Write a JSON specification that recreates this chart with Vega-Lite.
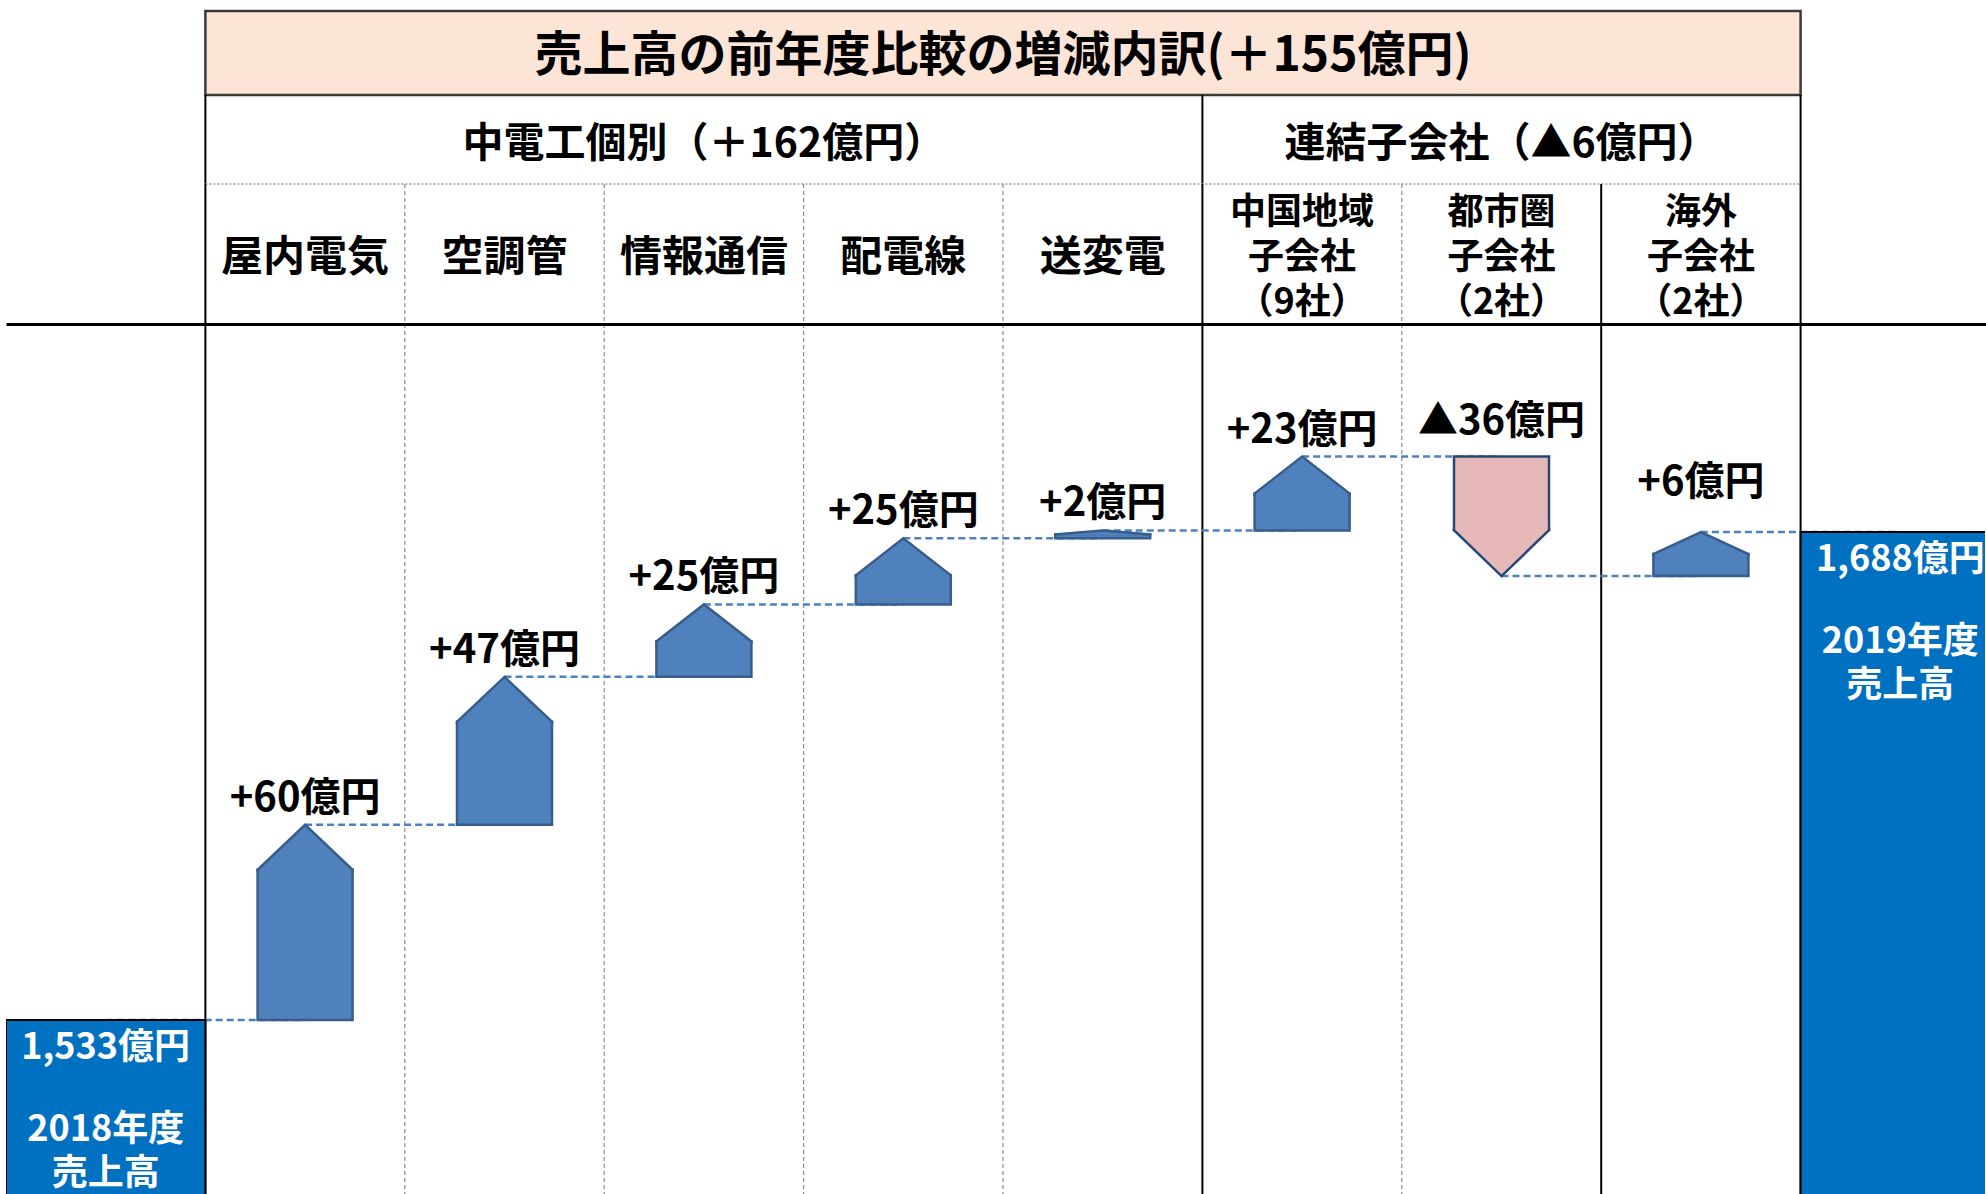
{
  "$schema": "https://vega.github.io/schema/vega-lite/v6.json",
  "padding": {"left": 6, "top": 9, "right": 0, "bottom": 0},
  "bounds": "flush",
  "spacing": 0,
  "background": "white",
  "config": {
    "view": {"stroke": null},
    "font": "Noto Sans CJK JP",
    "concat": {"spacing": 0}
  },
  "datasets": {
    "title": [
      {"text": "売上高の前年度比較の増減内訳(＋155億円)", "from": "屋内電気", "to": "海外", "mid": "送変電"}
    ],
    "groups": [
      {"name": "中電工個別（＋162億円）", "from": "屋内電気", "to": "送変電", "mid": "情報通信"},
      {"name": "連結子会社（▲6億円）", "from": "中国地域", "to": "海外", "mid": "都市圏"}
    ],
    "headers": [
      {"cat": "屋内電気", "header": "屋内電気", "lines": 1},
      {"cat": "空調管", "header": "空調管", "lines": 1},
      {"cat": "情報通信", "header": "情報通信", "lines": 1},
      {"cat": "配電線", "header": "配電線", "lines": 1},
      {"cat": "送変電", "header": "送変電", "lines": 1},
      {"cat": "中国地域", "header": "中国地域\n子会社\n（9社）", "lines": 3},
      {"cat": "都市圏", "header": "都市圏\n子会社\n（2社）", "lines": 3},
      {"cat": "海外", "header": "海外\n子会社\n（2社）", "lines": 3}
    ],
    "dividers": [
      {"cat": "屋内電気", "level": "group"},
      {"cat": "空調管", "level": "item"},
      {"cat": "情報通信", "level": "item"},
      {"cat": "配電線", "level": "item"},
      {"cat": "送変電", "level": "item"},
      {"cat": "中国地域", "level": "group"},
      {"cat": "都市圏", "level": "item"},
      {"cat": "海外", "level": "region"},
      {"cat": "2019年度", "level": "group"}
    ],
    "totals": [
      {"cat": "2018年度", "value": 1533, "amount": "1,533億円", "caption": "2018年度\n売上高"},
      {"cat": "2019年度", "value": 1688, "amount": "1,688億円", "caption": "2019年度\n売上高"}
    ],
    "changes": [
      {"cat": "屋内電気", "start": 1533, "end": 1595, "label": "+60億円"},
      {"cat": "空調管", "start": 1595, "end": 1642, "label": "+47億円"},
      {"cat": "情報通信", "start": 1642, "end": 1665, "label": "+25億円"},
      {"cat": "配電線", "start": 1665, "end": 1686, "label": "+25億円"},
      {"cat": "送変電", "start": 1686, "end": 1688.5, "label": "+2億円"},
      {"cat": "中国地域", "start": 1688.5, "end": 1712, "label": "+23億円"},
      {"cat": "都市圏", "start": 1712, "end": 1674, "label": "▲36億円"},
      {"cat": "海外", "start": 1674, "end": 1688, "label": "+6億円"}
    ],
    "links": [
      {"from": "2018年度", "to": "屋内電気", "level": 1533},
      {"from": "屋内電気", "to": "空調管", "level": 1595},
      {"from": "空調管", "to": "情報通信", "level": 1642},
      {"from": "情報通信", "to": "配電線", "level": 1665},
      {"from": "配電線", "to": "送変電", "level": 1686},
      {"from": "送変電", "to": "中国地域", "level": 1688.5},
      {"from": "中国地域", "to": "都市圏", "level": 1712},
      {"from": "都市圏", "to": "海外", "level": 1674},
      {"from": "海外", "to": "2019年度", "level": 1688}
    ]
  },
  "vconcat": [
    {
      "width": 1979,
      "height": 84,
      "data": {"name": "title"},
      "layer": [
        {
          "mark": {"type": "rect", "fill": "#FCE4D6", "stroke": "#3a3a3a", "strokeWidth": 2.5},
          "encoding": {
            "x": {"field": "from", "type": "nominal", "bandPosition": 0, "axis": null,
                  "scale": {"type": "band", "domain": ["2018年度", "屋内電気", "空調管", "情報通信", "配電線", "送変電", "中国地域", "都市圏", "海外", "2019年度"], "range": [0, 1994], "paddingInner": 0, "paddingOuter": 0}},
            "x2": {"field": "to", "bandPosition": 1}
          }
        },
        {
          "mark": {"type": "text", "fontSize": 48, "fontWeight": "bold", "fill": "#000000", "baseline": "middle", "dy": 4},
          "encoding": {
            "x": {"field": "mid", "type": "nominal", "bandPosition": 0, "axis": null,
                  "scale": {"type": "band", "domain": ["2018年度", "屋内電気", "空調管", "情報通信", "配電線", "送変電", "中国地域", "都市圏", "海外", "2019年度"], "range": [0, 1994], "paddingInner": 0, "paddingOuter": 0}},
            "text": {"field": "text"}
          }
        }
      ]
    },
    {
      "width": 1979,
      "height": 89,
      "layer": [
        {
          "data": {"name": "dividers"},
          "transform": [{"filter": "datum.level === 'group'"}],
          "mark": {"type": "rule", "stroke": "#000000", "strokeWidth": 2},
          "encoding": {
            "x": {"field": "cat", "type": "nominal", "bandPosition": 0, "axis": null,
                  "scale": {"type": "band", "domain": ["2018年度", "屋内電気", "空調管", "情報通信", "配電線", "送変電", "中国地域", "都市圏", "海外", "2019年度"], "range": [0, 1994], "paddingInner": 0, "paddingOuter": 0}}
          }
        },
        {
          "data": {"name": "groups"},
          "mark": {"type": "text", "fontSize": 41, "fontWeight": "bold", "fill": "#000000", "baseline": "middle", "dy": 5},
          "encoding": {
            "x": {"field": "mid", "type": "nominal", "bandPosition": 0.5, "axis": null,
                  "scale": {"type": "band", "domain": ["2018年度", "屋内電気", "空調管", "情報通信", "配電線", "送変電", "中国地域", "都市圏", "海外", "2019年度"], "range": [0, 1994], "paddingInner": 0, "paddingOuter": 0}},
            "text": {"field": "name"}
          }
        }
      ]
    },
    {
      "width": 1979,
      "height": 140,
      "layer": [
        {
          "data": {"name": "title"},
          "mark": {"type": "rect", "filled": false, "stroke": "#9a9a9a", "strokeWidth": 1.5, "strokeDash": [2, 2]},
          "encoding": {
            "x": {"field": "from", "type": "nominal", "bandPosition": 0, "axis": null,
                  "scale": {"type": "band", "domain": ["2018年度", "屋内電気", "空調管", "情報通信", "配電線", "送変電", "中国地域", "都市圏", "海外", "2019年度"], "range": [0, 1994], "paddingInner": 0, "paddingOuter": 0}},
            "x2": {"field": "to", "bandPosition": 1}
          }
        },
        {
          "data": {"name": "dividers"},
          "transform": [{"filter": "datum.level === 'item'"}],
          "mark": {"type": "rule", "stroke": "#8a8a8a", "strokeWidth": 1.2, "strokeDash": [4, 3]},
          "encoding": {
            "x": {"field": "cat", "type": "nominal", "bandPosition": 0, "axis": null,
                  "scale": {"type": "band", "domain": ["2018年度", "屋内電気", "空調管", "情報通信", "配電線", "送変電", "中国地域", "都市圏", "海外", "2019年度"], "range": [0, 1994], "paddingInner": 0, "paddingOuter": 0}}
          }
        },
        {
          "data": {"name": "dividers"},
          "transform": [{"filter": "datum.level !== 'item'"}],
          "mark": {"type": "rule", "stroke": "#000000", "strokeWidth": 2},
          "encoding": {
            "x": {"field": "cat", "type": "nominal", "bandPosition": 0, "axis": null,
                  "scale": {"type": "band", "domain": ["2018年度", "屋内電気", "空調管", "情報通信", "配電線", "送変電", "中国地域", "都市圏", "海外", "2019年度"], "range": [0, 1994], "paddingInner": 0, "paddingOuter": 0}}
          }
        },
        {
          "data": {"name": "headers"},
          "transform": [{"filter": "datum.lines === 1"}],
          "mark": {"type": "text", "fontSize": 42, "fontWeight": "bold", "fill": "#000000", "baseline": "middle", "dy": 4},
          "encoding": {
            "x": {"field": "cat", "type": "nominal", "bandPosition": 0.5, "axis": null,
                  "scale": {"type": "band", "domain": ["2018年度", "屋内電気", "空調管", "情報通信", "配電線", "送変電", "中国地域", "都市圏", "海外", "2019年度"], "range": [0, 1994], "paddingInner": 0, "paddingOuter": 0}},
            "text": {"field": "header"}
          }
        },
        {
          "data": {"name": "headers"},
          "transform": [{"filter": "datum.lines === 3"}],
          "mark": {"type": "text", "fontSize": 36, "fontWeight": "bold", "fill": "#000000", "baseline": "middle", "dy": -41, "lineBreak": "\n", "lineHeight": 45},
          "encoding": {
            "x": {"field": "cat", "type": "nominal", "bandPosition": 0.5, "axis": null,
                  "scale": {"type": "band", "domain": ["2018年度", "屋内電気", "空調管", "情報通信", "配電線", "送変電", "中国地域", "都市圏", "海外", "2019年度"], "range": [0, 1994], "paddingInner": 0, "paddingOuter": 0}},
            "text": {"field": "header"}
          }
        }
      ]
    },
    {
      "width": 1979,
      "height": 870,
      "encoding": {
        "x": {"type": "nominal",
              "scale": {"type": "band", "domain": ["2018年度", "屋内電気", "空調管", "情報通信", "配電線", "送変電", "中国地域", "都市圏", "海外", "2019年度"], "range": [0, 1994], "paddingInner": 0, "paddingOuter": 0},
              "axis": {"orient": "top", "domain": true, "domainColor": "#000000", "domainWidth": 3, "labels": false, "ticks": false, "grid": false, "title": null, "zindex": 1}}
      },
      "layer": [
        {
          "data": {"name": "dividers"},
          "transform": [{"filter": "datum.level === 'item'"}],
          "mark": {"type": "rule", "stroke": "#8a8a8a", "strokeWidth": 1.2, "strokeDash": [4, 3]},
          "encoding": {
            "x": {"field": "cat", "type": "nominal", "bandPosition": 0}
          }
        },
        {
          "data": {"name": "dividers"},
          "transform": [{"filter": "datum.level !== 'item'"}],
          "mark": {"type": "rule", "stroke": "#000000", "strokeWidth": 2},
          "encoding": {
            "x": {"field": "cat", "type": "nominal", "bandPosition": 0}
          }
        },
        {
          "data": {"name": "links"},
          "mark": {"type": "rule", "stroke": "#4F81BD", "strokeWidth": 2.5, "strokeDash": [7, 4]},
          "encoding": {
            "x": {"field": "from", "type": "nominal", "bandPosition": 0.5},
            "x2": {"field": "to", "bandPosition": 0.5},
            "y": {"field": "level", "type": "quantitative",
                  "scale": {"domain": [1477.7, 1754.1], "zero": false, "nice": false},
                  "axis": {"orient": "left", "domain": true, "domainColor": "#666666", "domainWidth": 1.5, "labels": false, "ticks": false, "grid": false, "title": null}}
          }
        },
        {
          "data": {"name": "totals"},
          "mark": {"type": "bar", "fill": "#0070C0", "stroke": "#000000", "strokeWidth": 2, "clip": true},
          "encoding": {
            "x": {"field": "cat", "type": "nominal"},
            "y": {"field": "value", "type": "quantitative", "axis": null, "scale": {"domain": [1477.7, 1754.1], "zero": false, "nice": false}}
          }
        },
        {
          "data": {"name": "changes"},
          "transform": [{"filter": {"field": "cat", "oneOf": ["屋内電気", "空調管"]}}],
          "mark": {"type": "bar", "width": 95, "fill": "#4F81BD", "stroke": "#385D8A", "strokeWidth": 2.5, "yOffset": 45},
          "encoding": {
            "x": {"field": "cat", "type": "nominal"},
            "y": {"field": "end", "type": "quantitative", "axis": null, "scale": {"domain": [1477.7, 1754.1], "zero": false, "nice": false}},
            "y2": {"field": "start"}
          }
        },
        {
          "data": {"name": "changes"},
          "transform": [{"filter": {"field": "cat", "oneOf": ["屋内電気", "空調管"]}}],
          "mark": {"type": "point", "shape": "M1,1L1,0.947L0,0L-1,0.947L-1,1", "size": 9025, "filled": true, "fill": "#4F81BD", "stroke": "#385D8A", "strokeWidth": 2.5, "opacity": 1},
          "encoding": {
            "x": {"field": "cat", "type": "nominal"},
            "y": {"field": "end", "type": "quantitative", "axis": null, "scale": {"domain": [1477.7, 1754.1], "zero": false, "nice": false}}
          }
        },
        {
          "data": {"name": "changes"},
          "transform": [{"filter": {"field": "cat", "oneOf": ["情報通信", "配電線", "中国地域"]}}],
          "mark": {"type": "bar", "width": 95, "fill": "#4F81BD", "stroke": "#385D8A", "strokeWidth": 2.5, "yOffset": 37},
          "encoding": {
            "x": {"field": "cat", "type": "nominal"},
            "y": {"field": "end", "type": "quantitative", "axis": null, "scale": {"domain": [1477.7, 1754.1], "zero": false, "nice": false}},
            "y2": {"field": "start"}
          }
        },
        {
          "data": {"name": "changes"},
          "transform": [{"filter": {"field": "cat", "oneOf": ["情報通信", "配電線", "中国地域"]}}],
          "mark": {"type": "point", "shape": "M1,0.83L1,0.779L0,0L-1,0.779L-1,0.83", "size": 9025, "filled": true, "fill": "#4F81BD", "stroke": "#385D8A", "strokeWidth": 2.5, "opacity": 1},
          "encoding": {
            "x": {"field": "cat", "type": "nominal"},
            "y": {"field": "end", "type": "quantitative", "axis": null, "scale": {"domain": [1477.7, 1754.1], "zero": false, "nice": false}}
          }
        },
        {
          "data": {"name": "changes"},
          "transform": [{"filter": {"field": "cat", "oneOf": ["海外"]}}],
          "mark": {"type": "bar", "width": 95, "fill": "#4F81BD", "stroke": "#385D8A", "strokeWidth": 2.5, "yOffset": 22},
          "encoding": {
            "x": {"field": "cat", "type": "nominal"},
            "y": {"field": "end", "type": "quantitative", "axis": null, "scale": {"domain": [1477.7, 1754.1], "zero": false, "nice": false}},
            "y2": {"field": "start"}
          }
        },
        {
          "data": {"name": "changes"},
          "transform": [{"filter": {"field": "cat", "oneOf": ["海外"]}}],
          "mark": {"type": "point", "shape": "M1,0.51L1,0.463L0,0L-1,0.463L-1,0.51", "size": 9025, "filled": true, "fill": "#4F81BD", "stroke": "#385D8A", "strokeWidth": 2.5, "opacity": 1},
          "encoding": {
            "x": {"field": "cat", "type": "nominal"},
            "y": {"field": "end", "type": "quantitative", "axis": null, "scale": {"domain": [1477.7, 1754.1], "zero": false, "nice": false}}
          }
        },
        {
          "data": {"name": "changes"},
          "transform": [{"filter": {"field": "cat", "oneOf": ["送変電"]}}],
          "mark": {"type": "bar", "width": 95, "fill": "#4F81BD", "stroke": "#385D8A", "strokeWidth": 2.5, "yOffset": 4},
          "encoding": {
            "x": {"field": "cat", "type": "nominal"},
            "y": {"field": "end", "type": "quantitative", "axis": null, "scale": {"domain": [1477.7, 1754.1], "zero": false, "nice": false}},
            "y2": {"field": "start"}
          }
        },
        {
          "data": {"name": "changes"},
          "transform": [{"filter": {"field": "cat", "oneOf": ["送変電"]}}],
          "mark": {"type": "point", "shape": "M1,0.11L1,0.084L0,0L-1,0.084L-1,0.11", "size": 9025, "filled": true, "fill": "#4F81BD", "stroke": "#385D8A", "strokeWidth": 2.5, "opacity": 1},
          "encoding": {
            "x": {"field": "cat", "type": "nominal"},
            "y": {"field": "end", "type": "quantitative", "axis": null, "scale": {"domain": [1477.7, 1754.1], "zero": false, "nice": false}}
          }
        },
        {
          "data": {"name": "changes"},
          "transform": [{"filter": {"field": "cat", "oneOf": ["都市圏"]}}],
          "mark": {"type": "bar", "width": 95, "fill": "#E6B9B8", "stroke": "#26477A", "strokeWidth": 2.5, "yOffset": -46},
          "encoding": {
            "x": {"field": "cat", "type": "nominal"},
            "y": {"field": "end", "type": "quantitative", "axis": null, "scale": {"domain": [1477.7, 1754.1], "zero": false, "nice": false}},
            "y2": {"field": "start"}
          }
        },
        {
          "data": {"name": "changes"},
          "transform": [{"filter": {"field": "cat", "oneOf": ["都市圏"]}}],
          "mark": {"type": "point", "shape": "M1,-1.02L1,-0.968L0,0L-1,-0.968L-1,-1.02", "size": 9025, "filled": true, "fill": "#E6B9B8", "stroke": "#26477A", "strokeWidth": 2.5, "opacity": 1},
          "encoding": {
            "x": {"field": "cat", "type": "nominal"},
            "y": {"field": "end", "type": "quantitative", "axis": null, "scale": {"domain": [1477.7, 1754.1], "zero": false, "nice": false}}
          }
        },
        {
          "data": {"name": "changes"},
          "transform": [{"filter": {"not": {"field": "cat", "oneOf": ["都市圏", "海外"]}}}],
          "mark": {"type": "text", "fontSize": 40, "fontWeight": "bold", "fill": "#000000", "baseline": "alphabetic", "dy": -14},
          "encoding": {
            "x": {"field": "cat", "type": "nominal"},
            "y": {"field": "end", "type": "quantitative", "axis": null, "scale": {"domain": [1477.7, 1754.1], "zero": false, "nice": false}},
            "text": {"field": "label"}
          }
        },
        {
          "data": {"name": "changes"},
          "transform": [{"filter": {"field": "cat", "oneOf": ["海外"]}}],
          "mark": {"type": "text", "fontSize": 40, "fontWeight": "bold", "fill": "#000000", "baseline": "alphabetic", "dy": -37},
          "encoding": {
            "x": {"field": "cat", "type": "nominal"},
            "y": {"field": "end", "type": "quantitative", "axis": null, "scale": {"domain": [1477.7, 1754.1], "zero": false, "nice": false}},
            "text": {"field": "label"}
          }
        },
        {
          "data": {"name": "changes"},
          "transform": [{"filter": {"field": "cat", "oneOf": ["都市圏"]}}],
          "mark": {"type": "text", "fontSize": 40, "fontWeight": "bold", "fill": "#000000", "baseline": "alphabetic", "dy": -23},
          "encoding": {
            "x": {"field": "cat", "type": "nominal"},
            "y": {"field": "start", "type": "quantitative", "axis": null, "scale": {"domain": [1477.7, 1754.1], "zero": false, "nice": false}},
            "text": {"field": "label"}
          }
        },
        {
          "data": {"name": "totals"},
          "mark": {"type": "text", "fontSize": 36, "fontWeight": "bold", "fill": "#ffffff", "baseline": "top", "dy": 11, "clip": true},
          "encoding": {
            "x": {"field": "cat", "type": "nominal"},
            "y": {"field": "value", "type": "quantitative", "axis": null, "scale": {"domain": [1477.7, 1754.1], "zero": false, "nice": false}},
            "text": {"field": "amount"}
          }
        },
        {
          "data": {"name": "totals"},
          "mark": {"type": "text", "fontSize": 36, "fontWeight": "bold", "fill": "#ffffff", "baseline": "top", "dy": 93, "lineBreak": "\n", "lineHeight": 44, "clip": true},
          "encoding": {
            "x": {"field": "cat", "type": "nominal"},
            "y": {"field": "value", "type": "quantitative", "axis": null, "scale": {"domain": [1477.7, 1754.1], "zero": false, "nice": false}},
            "text": {"field": "caption"}
          }
        }
      ]
    }
  ]
}
